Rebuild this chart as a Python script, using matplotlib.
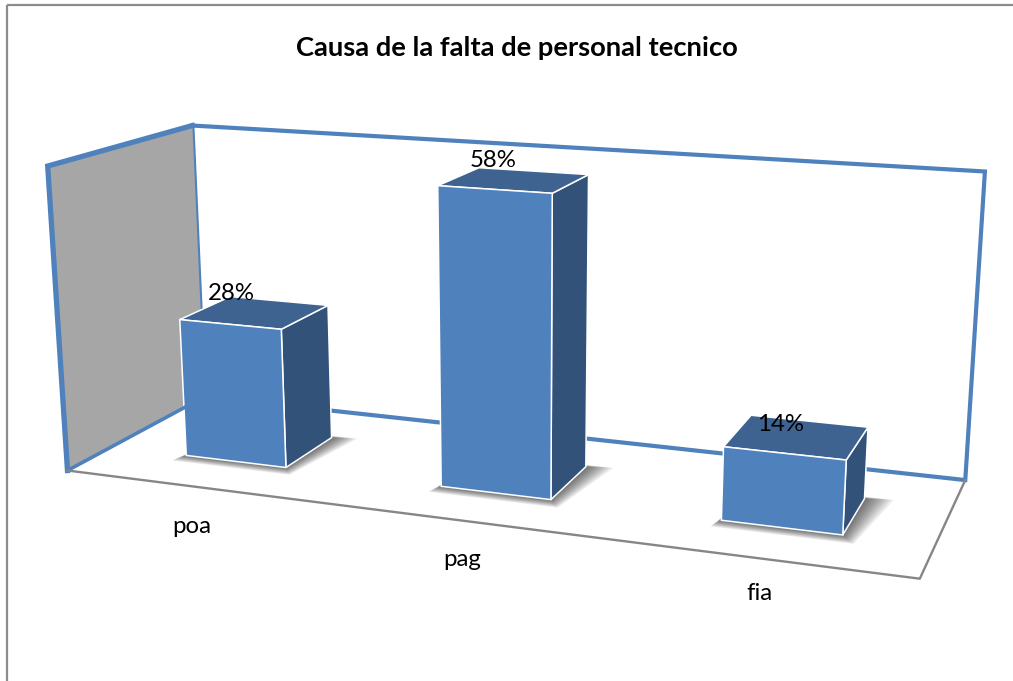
import numpy as np
import matplotlib.pyplot as plt
from matplotlib.patches import Polygon, Rectangle

categorias = ['poa', 'pag', 'fia']
valores = [28, 58, 14]
etiquetas = ['28%', '58%', '14%']
eje_max = 60

plt.rcParams['font.family'] = ['Lato', 'DejaVu Sans']

# esquinas de la caja 3d (x, fondo, altura) -> pixel
caja = [((0, 0, 0), (67, 472)), ((1, 0, 0), (920, 577)), ((1, 1, 0), (965, 482)),
        ((0, 1, 0), (205, 395)), ((0, 0, 1), (48, 166)), ((0, 1, 1), (192, 126)),
        ((1, 1, 1), (985, 171))]

A = []
b = []
for (x, y, z), (u, v) in caja:
    A.append([x, y, z, 1, 0, 0, 0, 0, -u*x, -u*y, -u*z])
    A.append([0, 0, 0, 0, x, y, z, 1, -v*x, -v*y, -v*z])
    b += [u, v]
P = np.append(np.linalg.lstsq(np.array(A), np.array(b), rcond=None)[0], 1).reshape(3, 4)


def proy(x, y, z):
    u, v, w = P @ np.array([x, y, z, 1.0])
    return u / w, v / w


fig = plt.figure(figsize=(10.13, 6.81), dpi=100)
ax = fig.add_axes([0, 0, 1, 1])
ax.set_xlim(0, 1013)
ax.set_ylim(681, 0)
ax.axis('off')

ax.add_patch(Rectangle((6.5, 4.5), 1100, 800, fill=False, ec='#8c8c8c', lw=1.6))

azul = '#4f81bd'
gris = '#868686'

# pared del fondo, pared izquierda y piso
ax.add_patch(Polygon([proy(0, 1, 0), proy(0, 1, 1), proy(1, 1, 1), proy(1, 1, 0)], closed=True,
                     fc='white', ec=azul, lw=3, joinstyle='miter'))
ax.add_patch(Polygon([proy(0, 0, 0), proy(0, 0, 1), proy(0, 1, 1), proy(0, 1, 0)], closed=True,
                     fc='#a6a6a6', ec='none'))
ax.plot(*zip(proy(0, 0, 0), proy(0, 0, 1), proy(0, 1, 1)), color=azul, lw=3.8, solid_joinstyle='miter')
ax.plot(*zip(proy(0, 0, 0), proy(0, 1, 0)), color=azul, lw=2.6)
ax.plot(*zip(proy(0, 0, 0), proy(1, 0, 0), proy(1, 1, 0)), color=gris, lw=1.7)

# barras
centros = [0.170, 0.503, 0.835]
ancho = 0.134
y0, y1 = 0.30, 0.68
# desplazamiento de los textos en pixeles
desp_valor = [(-47, -7), (-40, -11), (-28, 3)]
desp_cat = [(49, 8), (40, 3), (27, -5)]
for i, (xc, val, cat, et) in enumerate(zip(centros, valores, categorias, etiquetas)):
    x0, x1 = xc - ancho/2, xc + ancho/2
    z = val / eje_max

    # sombra difusa en el piso
    for k in range(10):
        mx = 0.0016 * (10 - k)
        my = 0.007 * (10 - k)
        ax.add_patch(Polygon([proy(x0 - mx*0.4, y0 - my, 0), proy(x1 + mx, y0 - my, 0),
                              proy(x1 + mx*2, y1 + my*0.3, 0), proy(x0 + mx, y1 + my*0.3, 0)],
                             closed=True, fc='black', ec='none', alpha=0.07))

    ax.add_patch(Polygon([proy(x1, y0, 0), proy(x1, y1, 0), proy(x1, y1, z), proy(x1, y0, z)],
                         closed=True, fc='#32527a', ec='white', lw=1.1))
    ax.add_patch(Polygon([proy(x0, y0, z), proy(x1, y0, z), proy(x1, y1, z), proy(x0, y1, z)],
                         closed=True, fc='#3f6390', ec='white', lw=1.1))
    ax.add_patch(Polygon([proy(x0, y0, 0), proy(x1, y0, 0), proy(x1, y0, z), proy(x0, y0, z)],
                         closed=True, fc=azul, ec='white', lw=1.1))

    u, v = proy(xc, y1, z)
    ax.text(u + desp_valor[i][0], v + desp_valor[i][1], et, fontsize=17.3, color='black',
            ha='center', va='center')
    u, v = proy(xc, -0.35, 0)
    ax.text(u + desp_cat[i][0], v + desp_cat[i][1], cat, fontsize=17.3, color='black',
            ha='center', va='center')

ax.text(517, 47.5, 'Causa de la falta de personal tecnico', fontsize=19.7, fontweight='bold',
        color='black', ha='center', va='center')

fig.savefig('out.png', dpi=100)
